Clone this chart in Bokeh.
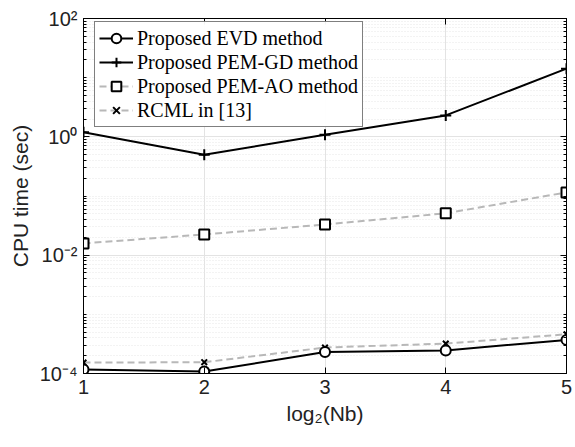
from bokeh.plotting import figure
from bokeh.models import FixedTicker, LogAxis, LinearAxis, Legend, LegendItem, Range1d, CustomJSTickFormatter
from bokeh.embed import file_html
from bokeh.resources import INLINE

x = [1, 2, 3, 4, 5]
evd = [1.17e-4, 1.08e-4, 2.3e-4, 2.45e-4, 3.7e-4]
pem_gd = [1.2, 0.5, 1.08, 2.3, 14.2]
pem_ao = [0.0158, 0.0224, 0.033, 0.051, 0.115]
rcml = [1.53e-4, 1.55e-4, 2.75e-4, 3.2e-4, 4.6e-4]

y_major = [1e-4, 1e-2, 1.0, 1e2]
y_labels = {1e-4: "10⁻⁴", 1e-2: "10⁻²", 1.0: "10⁰", 1e2: "10²"}
x_ticks = [1, 2, 3, 4, 5]

minor = []
for e in range(-4, 2):
    for k in range(2, 10):
        minor.append(k * 10.0 ** e)
minor += [10.0 ** e for e in (-3, -1, 1)]

p = figure(width=575, height=447, y_axis_type="log", output_backend="svg",
           toolbar_location=None, x_range=Range1d(1, 5), y_range=Range1d(1e-4, 1e2),
           min_border_left=83, min_border_right=9, min_border_top=18, min_border_bottom=74)
p.outline_line_color = "black"
p.outline_line_width = 1
p.background_fill_color = "white"
p.border_fill_color = "white"

yt = FixedTicker(ticks=y_major, minor_ticks=minor)
xt = FixedTicker(ticks=x_ticks)
p.yaxis.ticker = yt
p.xaxis.ticker = xt
p.yaxis.major_label_overrides = y_labels
p.xaxis.major_label_overrides = {i: str(i) for i in x_ticks}

for ax in (p.xaxis[0], p.yaxis[0]):
    ax.major_tick_in = 6
    ax.major_tick_out = 0
    ax.minor_tick_in = 3
    ax.minor_tick_out = 0
    ax.axis_line_color = "black"
    ax.major_tick_line_color = "black"
    ax.minor_tick_line_color = "black"
    ax.major_label_text_font = "Liberation Sans"
    ax.major_label_text_font_size = "20px"
    ax.major_label_text_color = "#222222"
    ax.axis_label_text_font = "Liberation Sans"
    ax.axis_label_text_font_size = "21px"
    ax.axis_label_text_font_style = "normal"
    ax.axis_label_text_color = "#222222"

p.xaxis.axis_label = "log₂(Nb)"
p.yaxis.axis_label = "CPU time (sec)"
p.xaxis.major_label_standoff = 6
p.yaxis.major_label_standoff = 6

blank = CustomJSTickFormatter(code="return ''")
ra = LogAxis(ticker=FixedTicker(ticks=y_major, minor_ticks=minor), formatter=blank,
             major_tick_in=6, major_tick_out=0, minor_tick_in=3, minor_tick_out=0,
             major_label_standoff=0)
ta = LinearAxis(ticker=FixedTicker(ticks=x_ticks), formatter=CustomJSTickFormatter(code="return ''"),
                major_tick_in=6, major_tick_out=0, minor_tick_in=0, minor_tick_out=0,
                major_label_standoff=0)
p.add_layout(ra, "right")
p.add_layout(ta, "above")

p.xgrid.ticker = xt
p.ygrid.ticker = yt
p.xgrid.grid_line_color = "#e3e3e3"
p.ygrid.grid_line_color = "#e3e3e3"
p.ygrid.minor_grid_line_color = "#e6e6e6"
p.ygrid.minor_grid_line_dash = "1 2"

gray = "#b8b8b8"
l4 = p.line(x, rcml, line_color=gray, line_width=2, line_dash="7 4")
s4 = p.scatter(x, rcml, marker="x", size=8, line_color="black", line_width=2)
l3 = p.line(x, pem_ao, line_color=gray, line_width=2, line_dash="7 4")
s3 = p.scatter(x, pem_ao, marker="square", size=10, line_color="black", fill_color="white", line_width=2)
l1 = p.line(x, evd, line_color="black", line_width=2)
s1 = p.scatter(x, evd, marker="circle", size=10, line_color="black", fill_color="white", line_width=2)
l2 = p.line(x, pem_gd, line_color="black", line_width=2)
s2 = p.scatter(x, pem_gd, marker="cross", size=11, line_color="black", line_width=2)

legend = Legend(items=[
    LegendItem(label="Proposed EVD method", renderers=[l1, s1]),
    LegendItem(label="Proposed PEM-GD method", renderers=[l2, s2]),
    LegendItem(label="Proposed PEM-AO method", renderers=[l3, s3]),
    LegendItem(label="RCML in [13]", renderers=[l4, s4]),
], location=(11, 246))
legend.label_text_font = "Liberation Serif"
legend.label_text_font_size = "20px"
legend.label_text_color = "black"
legend.border_line_color = "black"
legend.border_line_width = 1
legend.margin = 0
legend.padding = 4
legend.spacing = 0
legend.label_height = 24
legend.glyph_height = 24
legend.glyph_width = 34
legend.label_standoff = 4
p.add_layout(legend)

open("out.html", "w").write(file_html(p, INLINE))
